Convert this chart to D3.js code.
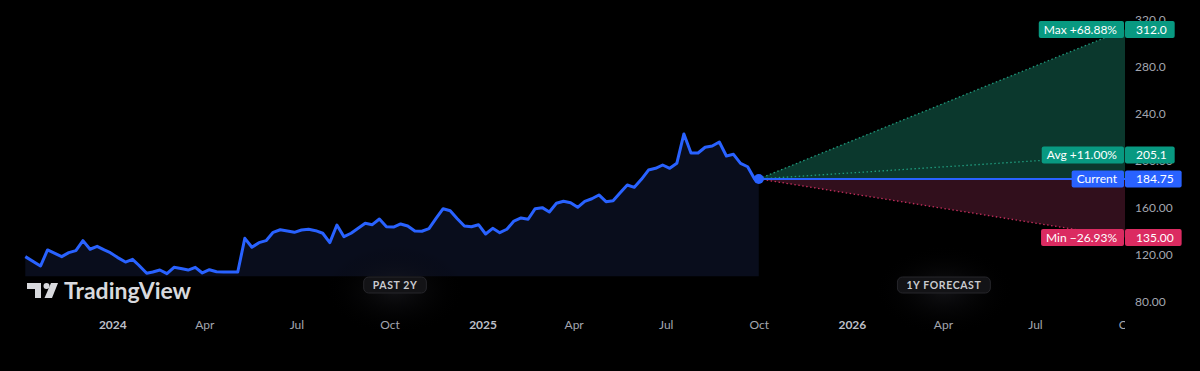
<!DOCTYPE html>
<html lang="en">
<head>
<meta charset="utf-8">
<title>forecast</title>
<script src="https://cdn.jsdelivr.net/npm/d3@7/dist/d3.min.js"></script>
<style>
  html, body { margin: 0; padding: 0; background: #000; }
  svg { display: block; font-family: "Lato", "DejaVu Sans", sans-serif; }
</style>
</head>
<body>
<script>
// past 2 years, weekly closes
var dates = ["2023-10-07","2023-10-22","2023-10-29","2023-11-12","2023-11-19","2023-11-26","2023-12-03","2023-12-10","2023-12-17","2023-12-24","2023-12-30",
  "2024-01-06","2024-01-14","2024-01-21","2024-01-27","2024-02-04","2024-02-10","2024-02-17","2024-02-24","2024-03-02","2024-03-10","2024-03-16","2024-03-23","2024-03-30",
  "2024-04-06","2024-04-13","2024-04-20","2024-04-27","2024-05-04","2024-05-11","2024-05-18","2024-05-25","2024-06-01","2024-06-08","2024-06-15","2024-06-22","2024-06-29",
  "2024-07-06","2024-07-13","2024-07-20","2024-07-27","2024-08-03","2024-08-10","2024-08-17","2024-08-24","2024-08-31","2024-09-07","2024-09-14","2024-09-21","2024-09-28",
  "2024-10-05","2024-10-12","2024-10-19","2024-10-26","2024-11-02","2024-11-09","2024-11-16","2024-11-23","2024-11-30","2024-12-07","2024-12-14","2024-12-21","2024-12-28",
  "2025-01-04","2025-01-11","2025-01-18","2025-01-25","2025-02-01","2025-02-08","2025-02-15","2025-02-22","2025-03-01","2025-03-08","2025-03-15","2025-03-22","2025-03-29",
  "2025-04-05","2025-04-12","2025-04-19","2025-04-26","2025-05-03","2025-05-10","2025-05-17","2025-05-24","2025-05-31","2025-06-07","2025-06-14","2025-06-21","2025-06-28",
  "2025-07-05","2025-07-12","2025-07-19","2025-07-26","2025-08-02","2025-08-09","2025-08-16","2025-08-23","2025-08-30","2025-09-06","2025-09-13","2025-09-20","2025-09-27","2025-10-01"];
var prices = [118.6,110.6,124.3,118.6,122.0,123.7,132.2,124.9,127.4,124.3,122.0,
  118.0,114.0,116.3,111.5,104.4,105.5,107.2,104.1,109.5,108.3,107.2,109.5,104.7,
  107.5,105.8,105.5,105.5,105.5,134.2,126.6,130.5,132.2,139.3,141.5,140.4,139.3,
  141.3,141.9,140.7,138.5,130.5,145.5,135.6,138.5,142.7,147.0,145.8,150.6,144.1,
  143.8,146.4,144.7,140.4,140.2,142.4,151.2,159.4,157.7,150.9,144.7,144.1,145.8,
  137.9,142.7,139.0,141.9,148.9,151.5,150.4,159.4,160.3,156.6,164.0,165.7,164.5,
  160.6,165.7,167.9,171.1,165.4,166.2,173.0,179.6,177.6,184.4,192.3,193.8,196.6,
  193.8,198.0,223.0,206.8,206.8,211.7,212.8,216.2,204.3,205.7,198.0,195.1,184.4,184.75];

// 1 year forecast
var fcNames  = ["Max +68.88%", "Avg +11.00%", "Current", "Min \u221226.93%"];
var fcValues = [312.0, 205.1, 184.75, 135.00];
var fcText   = ["312.0", "205.1", "184.75", "135.00"];
var fcKinds  = ["up", "up", "cur", "down"];

var yTicks = [80, 120, 160, 200, 240, 280, 320];
var yTickLabels = ["80.00", "120.00", "160.00", "200.00", "240.0", "280.0", "320.0"];
var xStart = "2023-09-12", xEnd = "2026-09-28";
var areaFloor = 102;

var W = 1200, H = 371, plotW = 1125;
var parse = d3.utcParse("%Y-%m-%d");
var data = dates.map(function(d, i){ return {date: parse(d), v: prices[i]}; });
var first = data[0], last = data[data.length - 1];

var x = d3.scaleUtc().domain([parse(xStart), parse(xEnd)]).range([0, plotW]);
var y = d3.scaleLinear().domain([80, 320]).range([302, 20]);

var colors = {up: "#089981", cur: "#2962ff", down: "#db2b61"};

var svg = d3.select("body").append("svg").attr("width", W).attr("height", H);
var defs = svg.append("defs");
defs.append("clipPath").attr("id", "plot").append("rect").attr("width", plotW).attr("height", H);

var glow = defs.append("radialGradient").attr("id", "glow");
glow.append("stop").attr("offset", "0%").attr("stop-color", "#23232a").attr("stop-opacity", 0.5);
glow.append("stop").attr("offset", "100%").attr("stop-color", "#000").attr("stop-opacity", 0);

svg.append("rect").attr("width", W).attr("height", H).attr("fill", "#000");

var plot = svg.append("g").attr("clip-path", "url(#plot)");

// past area
plot.append("path").datum(data)
  .attr("d", d3.area().x(function(d){ return x(d.date); }).y0(y(areaFloor)).y1(function(d){ return y(d.v); }))
  .attr("fill", "#090d1c");

// badge centres: middle of the past span and of the forecast span
var xEndPx = x(parse(xEnd)), x0 = x(last.date), yc = y(last.v);
var badges = [{t: "PAST 2Y", cx: (x(first.date) + x0) / 2 + 3}, {t: "1Y FORECAST", cx: (x0 + xEndPx) / 2 + 2}];
plot.selectAll(".glow").data(badges).enter().append("ellipse")
  .attr("cx", function(d){ return d.cx; }).attr("cy", y(90))
  .attr("rx", 70).attr("ry", 45).attr("fill", "url(#glow)");

// forecast cones
plot.append("path")
  .attr("d", "M" + x0 + "," + yc + "L" + xEndPx + "," + y(fcValues[0]) + "L" + xEndPx + "," + yc + "Z")
  .attr("fill", "#0b382d");
plot.append("path")
  .attr("d", "M" + x0 + "," + yc + "L" + xEndPx + "," + yc + "L" + xEndPx + "," + y(fcValues[3]) + "Z")
  .attr("fill", "#310f1c");

[0, 1, 3].forEach(function(i){
  plot.append("line")
    .attr("x1", x0).attr("y1", yc).attr("x2", xEndPx).attr("y2", y(fcValues[i]))
    .attr("stroke", fcKinds[i] == "up" ? "#1f9a7d" : "#c22e5c")
    .attr("stroke-width", 1.3).attr("stroke-dasharray", "1.5,2.5");
});

plot.append("line").attr("x1", x0).attr("x2", xEndPx).attr("y1", yc).attr("y2", yc)
  .attr("stroke", "#2962ff").attr("stroke-width", 2);

plot.append("path").datum(data)
  .attr("d", d3.line().x(function(d){ return x(d.date); }).y(function(d){ return y(d.v); }))
  .attr("fill", "none").attr("stroke", "#2962ff").attr("stroke-width", 3).attr("stroke-linejoin", "round");

plot.append("circle").attr("cx", x0).attr("cy", yc).attr("r", 5).attr("fill", "#2962ff");

// badges
badges.forEach(function(b){
  var g = plot.append("g").attr("transform", "translate(" + b.cx + ",285)");
  var t = g.append("text").attr("text-anchor", "middle").attr("dy", "0.36em")
    .attr("font-size", 10.5).attr("font-weight", 700).attr("letter-spacing", 0.6)
    .attr("fill", "#c9cacf").text(b.t);
  var w = t.node().getComputedTextLength() + 18;
  g.insert("rect", "text").attr("x", -w/2).attr("y", -8).attr("width", w).attr("height", 16)
    .attr("rx", 5).attr("fill", "#131316").attr("stroke", "#26262b");
});

// TradingView logo
var logo = svg.append("g").attr("transform", "translate(27,283)").attr("fill", "#d8d9dd");
logo.append("path").attr("d", "M0,0H14V15H8V6H0Z");
logo.append("circle").attr("cx", 19.5).attr("cy", 3).attr("r", 3);
logo.append("path").attr("d", "M24,0H31L25,15H17.5Z");
svg.append("text").attr("x", 64).attr("y", 299).attr("font-size", 23).attr("font-weight", 700)
  .attr("fill", "#d8d9dd").text("TradingView");

// x axis
var xTicks = d3.utcMonth.every(3).range(parse("2024-01-01"), parse("2026-10-02"));
var xAxis = svg.append("g").attr("transform", "translate(0,312)").attr("clip-path", "url(#plot)")
  .call(d3.axisBottom(x).tickValues(xTicks).tickSize(0).tickPadding(8)
    .tickFormat(function(d){ return d.getUTCMonth() == 0 ? d3.utcFormat("%Y")(d) : d3.utcFormat("%b")(d); }));
xAxis.select(".domain").remove();
xAxis.selectAll("text").attr("font-size", 12).attr("font-family", "Lato, sans-serif")
  .attr("fill", function(d){ return d.getUTCMonth() == 0 ? "#bcbfc7" : "#a3a6af"; })
  .attr("font-weight", function(d){ return d.getUTCMonth() == 0 ? 700 : 400; });

// y axis
var yAxis = svg.append("g").attr("transform", "translate(" + plotW + ",0)")
  .call(d3.axisRight(y).tickValues(yTicks).tickSize(0).tickPadding(10)
    .tickFormat(function(d, i){ return yTickLabels[i]; }));
yAxis.select(".domain").remove();
yAxis.selectAll("text").attr("font-size", 12).attr("font-family", "Lato, sans-serif").attr("fill", "#a3a6af");

// forecast labels
fcValues.forEach(function(v, i){
  var cy = y(v), col = colors[fcKinds[i]];
  var g = svg.append("g");
  var lt = g.append("text").attr("x", plotW - 8).attr("y", cy).attr("dy", "0.36em")
    .attr("text-anchor", "end").attr("font-size", 12).attr("fill", "#fff").text(fcNames[i]);
  var lw = lt.node().getComputedTextLength();
  var vt = g.append("text").attr("x", plotW + 11).attr("y", cy).attr("dy", "0.36em")
    .attr("font-size", 12).attr("fill", "#fff").text(fcText[i]);
  var vw = vt.node().getComputedTextLength();
  g.insert("rect", "text").attr("x", plotW - 8 - lw - 5).attr("y", cy - 8.5)
    .attr("width", lw + 12).attr("height", 17).attr("rx", 2).attr("fill", col);
  g.insert("rect", "text").attr("x", plotW).attr("y", cy - 8.5)
    .attr("width", vw + 19).attr("height", 17).attr("rx", 2).attr("fill", col);
});
</script>
</body>
</html>
